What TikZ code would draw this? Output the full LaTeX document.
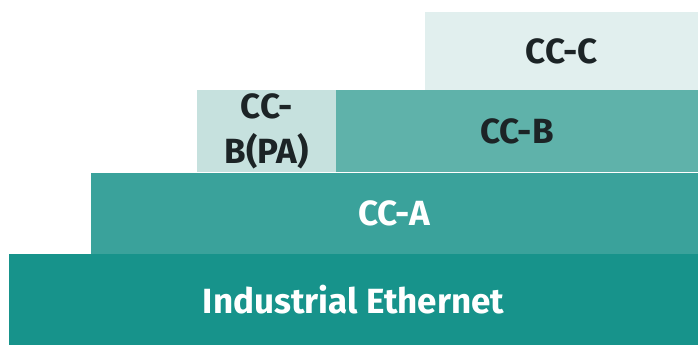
\documentclass[tikz,border=0pt]{standalone}
\usepackage{fontspec}
\setmainfont{Fira Sans}[BoldFont={Fira Sans Bold}]
\usetikzlibrary{positioning}
\definecolor{ink}{HTML}{1C2426}
\definecolor{teal1}{HTML}{17938B}
\definecolor{teal2}{HTML}{3AA29B}
\definecolor{teal3}{HTML}{5FB2AA}
\definecolor{pale1}{HTML}{C6E1DE}
\definecolor{pale2}{HTML}{E1EFEE}

\begin{document}
\begin{tikzpicture}[x=1pt,y=-1pt,font=\fontsize{35}{40}\selectfont\bfseries,
  layer/.style={anchor=north west,inner sep=0pt,outer sep=0pt,align=center}]
\useasboundingbox (0,0) rectangle (698,349);
% stacked layers, bottom to top
\node[layer,fill=teal1,text=white,minimum width=689pt,minimum height=91pt] (ie) at (9,254) {Industrial Ethernet};
\node[layer,fill=teal2,text=white,minimum width=607pt,minimum height=81pt] (cca) at (91,173) {CC-A};
\node[layer,fill=pale1,text=ink,minimum width=139pt,minimum height=82pt] (ccbpa) at (197,90) {CC-\\[5pt]B(PA)};
\node[layer,fill=teal3,text=ink,minimum width=362pt,minimum height=82pt] (ccb) at (336,90) {CC-B};
\node[layer,fill=pale2,text=ink,minimum width=273pt,minimum height=78pt] (ccc) at (425,12) {CC-C};
\end{tikzpicture}
\end{document}
